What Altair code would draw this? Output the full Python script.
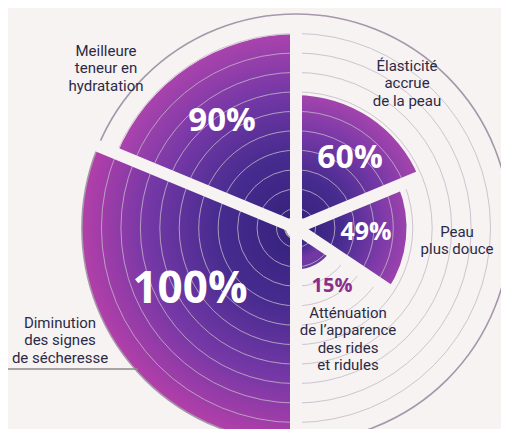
import math
import altair as alt
import pandas as pd

# ---- data ----
categories = [
    "Élasticité\naccrue\nde la peau",
    "Peau\nplus douce",
    "Atténuation\nde l’apparence\ndes rides\net ridules",
    "Diminution\ndes signes\nde sécheresse",
    "Meilleure\nteneur en\nhydratation",
]
values = [60, 49, 15, 100, 90]
spans_deg = [67.5, 56.25, 56.25, 112.5, 67.5]
pct_text = ["60%", "49%", "15%", "100%", "90%"]
ring_steps = list(range(1, 12))

# ---- layout / style ----
edge_colors = ["#a444ad", "#9c42ad", "#65399f", "#b23fa9", "#aa43ad"]
CX, CY = 288, 220
R0, R1 = 11, 214
BG = "#f6f3f2"
# label placement (chart pixels): x, first baseline y
cat_pos = [(399, 62.5), (449, 228.5), (340, 309.5), (52, 319.5), (98, 47.5)]
pct_pos = [(342, 160), (358, 232), (324, 284), (182, 295), (214, 123)]
pct_size = [32, 25, 20, 44, 33]
pct_color = ["white", "white", "#8a2e8c", "white", "white"]


def rpx(v):
    return R0 + (R1 - R0) * v / 100.0


starts = []
acc = 0.0
for s in spans_deg:
    starts.append(acc)
    acc += s


def wedge_gradient(a0, a1, r, edge):
    pts = [(0.0, 0.0)]
    angs = [a0, a1] + [k * 90 for k in range(0, 9) if a0 < k * 90 < a1]
    for a in angs:
        t = math.radians(a)
        pts.append((r * math.sin(t), -r * math.cos(t)))
    xs = [p[0] for p in pts]
    ys = [p[1] for p in pts]
    xmin, xmax, ymin, ymax = min(xs), max(xs), min(ys), max(ys)
    w, h = xmax - xmin, ymax - ymin
    S = max(w, h)
    sx0 = xmin + w / 2 - S / 2
    sy0 = ymin + h / 2 - S / 2
    cx = -sx0 / S
    cy = -sy0 / S
    return {
        "gradient": "radial",
        "x1": cx, "y1": cy, "r1": 0,
        "x2": cx, "y2": cy, "r2": r / S,
        "stops": [
            {"offset": 0, "color": "#35217c"},
            {"offset": 0.35, "color": "#452b8e"},
            {"offset": 0.7, "color": "#7538a6"},
            {"offset": 1, "color": edge},
        ],
    }


radius_scale = alt.Scale(type="linear", domain=[0, 100], range=[R0, R1])

layers = []
for i, (cat, v) in enumerate(zip(categories, values)):
    a0 = starts[i]
    a1 = starts[i] + spans_deg[i]
    df = pd.DataFrame({
        "category": [cat.replace("\n", " ")],
        "value": [v],
        "t0": [math.radians(a0)],
        "t1": [math.radians(a1)],
    })
    layers.append(
        alt.Chart(df).mark_arc(fill=wedge_gradient(a0, a1, rpx(v), edge_colors[i])).encode(
            theta=alt.Theta("t0:Q", scale=None),
            theta2=alt.Theta2("t1:Q"),
            radius=alt.Radius("value:Q", scale=radius_scale, stack=None),
            x=alt.value(CX),
            y=alt.value(CY),
        )
    )

# grid rings: evenly spaced circles out to the 100 % radius, expressed on the same value scale
ring_df = pd.DataFrame({"step": ring_steps})
ring_df["value"] = ((ring_df["step"] * R1 / len(ring_steps)) - R0) / (R1 - R0) * 100
inner_rings = alt.Chart(ring_df[ring_df["step"] < len(ring_steps)]).mark_arc(
    fillOpacity=0, stroke="#c3b8c6", strokeWidth=0.8
).encode(
    theta=alt.value(0), theta2=alt.value(2 * math.pi),
    radius=alt.Radius("value:Q", scale=radius_scale, stack=None),
    x=alt.value(CX), y=alt.value(CY),
)
outer_ring = alt.Chart(ring_df[ring_df["step"] == len(ring_steps)]).mark_arc(
    fillOpacity=0, stroke="#a597a9", strokeWidth=1.6
).encode(
    theta=alt.value(0), theta2=alt.value(2 * math.pi),
    radius=alt.Radius("value:Q", scale=radius_scale, stack=None),
    x=alt.value(CX), y=alt.value(CY),
)

# white gaps between slices
gap_rows = []
n = len(values)
for i in range(n):
    L = max(rpx(values[i - 1]), rpx(values[i])) + 1.5
    t = math.radians(starts[i])
    gap_rows.append({
        "x1": CX, "y1": CY,
        "x2": CX + L * math.sin(t), "y2": CY - L * math.cos(t),
    })
gap_df = pd.DataFrame(gap_rows)
gaps = alt.Chart(gap_df).mark_rule(strokeWidth=12, color=BG, strokeCap="butt").encode(
    x=alt.X("x1:Q", scale=None), y=alt.Y("y1:Q", scale=None),
    x2=alt.X2("x2:Q"), y2=alt.Y2("y2:Q"),
)

hline = alt.Chart(pd.DataFrame({"a": [0]})).mark_rule(color="#8c8a8c", strokeWidth=1.3).encode(
    x=alt.value(0), x2=alt.value(130), y=alt.value(361)
)

cat_df = pd.DataFrame({
    "label": categories,
    "x": [p[0] for p in cat_pos],
    "y": [p[1] for p in cat_pos],
})
cat_text = alt.Chart(cat_df).mark_text(
    font="Roboto", fontSize=15, color="#2c2a46", align="center",
    baseline="alphabetic", lineBreak="\n", lineHeight=17.6
).encode(
    x=alt.X("x:Q", scale=None), y=alt.Y("y:Q", scale=None), text="label:N"
)

pct_df = pd.DataFrame({
    "label": pct_text,
    "x": [p[0] for p in pct_pos],
    "y": [p[1] for p in pct_pos],
    "size": pct_size,
    "color": pct_color,
})
pct_labels = alt.Chart(pct_df).mark_text(
    font="Open Sans", fontWeight="bold", align="center", baseline="alphabetic"
).encode(
    x=alt.X("x:Q", scale=None), y=alt.Y("y:Q", scale=None), text="label:N",
    size=alt.Size("size:Q", scale=None, legend=None),
    color=alt.Color("color:N", scale=None, legend=None),
)

chart = alt.layer(
    *layers, inner_rings, outer_ring, gaps, hline, cat_text, pct_labels
).properties(
    width=493, height=421, padding=0, background=BG,
    autosize=alt.AutoSizeParams(type="none"),
).configure_view(stroke=None)

chart.save("out.html", embed_options={"renderer": "svg", "actions": False})
